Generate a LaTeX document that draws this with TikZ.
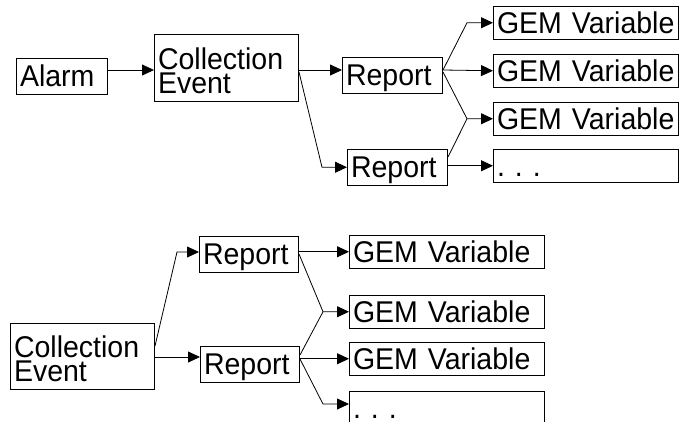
\documentclass[tikz,border=0pt]{standalone}
\usepackage{fontspec}
\setmainfont{Liberation Sans}[FakeStretch=0.95]
\usetikzlibrary{arrows.meta}
\tikzset{
  box/.style={draw, line width=1pt, rectangle, inner xsep=3.5pt, inner ysep=0pt,
    anchor=north west, align=left, font=\fontsize{30}{24}\selectfont},
  rep/.style={box, text height=27.5pt, text depth=8pt},
  gem/.style={box, text height=27pt, text depth=5.5pt},
  ce/.style={box, text height=35pt, text depth=32pt},
  arr/.style={line width=0.8pt, -{Triangle[length=12pt,width=11pt]}},
  ln/.style={line width=0.8pt}
}
\begin{document}
\begin{tikzpicture}[x=1pt,y=-1pt]
\useasboundingbox (0,0) rectangle (679,421);
% top diagram
\node[rep, text width=84pt] (alarm) at (16,58) {Alarm};
\node[ce, text width=137pt] (ce) at (154,34) {Collection\\Event};
\node[rep, text width=93pt] (r1) at (342,57) {Report};
\node[rep, text width=93pt] (r2) at (347,149) {Report};
\node[gem, text width=178pt] (g1) at (493,6) {GEM Variable};
\node[gem, text width=178pt] (g2) at (493,54) {GEM Variable};
\node[gem, text width=178pt] (g3) at (493,102) {GEM Variable};
\node[gem, text width=178pt] (g4) at (493,149) {.\ .\ .};
\draw[arr] (alarm.east |- 0,70) -- (ce.west |- 0,70);
\draw[arr] (ce.east |- 0,70) -- (r1.west |- 0,70);
\draw[arr] (ce.east |- 0,72) -- ([xshift=-25pt]r2.west) -- (r2.west);
\draw[arr] (r1.east |- 0,70) -- ([xshift=-26pt]g1.west) -- (g1.west);
\draw[arr] (r1.east |- 0,70) -- (g2.west);
\draw[arr] (r1.east |- 0,72) -- ([xshift=-26pt]g3.west) -- (g3.west);
\draw[ln] (r2.east |- 0,157) -- ([xshift=-26pt]g3.west);
\draw[arr] (r2.east |- g4.west) -- (g4.west);
% bottom diagram
\node[box, text width=137pt, text height=34pt, text depth=32pt] (ce2) at (10,323) {Collection\\Event};
\node[rep, text width=92pt] (ra) at (199,236) {Report};
\node[rep, text width=92pt] (rb) at (200,346) {Report};
\node[gem, text width=188pt] (ga) at (349,235) {GEM Variable};
\node[gem, text width=188pt] (gb) at (349,295) {GEM Variable};
\node[gem, text width=188pt] (gc) at (349,342) {GEM Variable};
\node[box, text width=188pt, text height=27pt, text depth=40pt] (gd) at (349,391) {.\ .\ .};
\draw[arr] (ce2.east |- 0,346) -- ([xshift=-22pt]ra.west |- 0,252) -- (ra.west |- 0,252);
\draw[arr] (ce2.east |- 0,357) -- (rb.west |- 0,357);
\draw[arr] (ra.east |- ga.west) -- (ga.west);
\draw[arr] (ra.east |- 0,254) -- ([xshift=-26pt]gb.west) -- (gb.west);
\draw[ln] (rb.east |- 0,355) -- ([xshift=-26pt]gb.west);
\draw[arr] (rb.east |- gc.west) -- (gc.west);
\draw[arr] (rb.east |- 0,359) -- ([xshift=-26pt,yshift=-13pt]gd.north west) -- ([yshift=-13pt]gd.north west);
\end{tikzpicture}
\end{document}
